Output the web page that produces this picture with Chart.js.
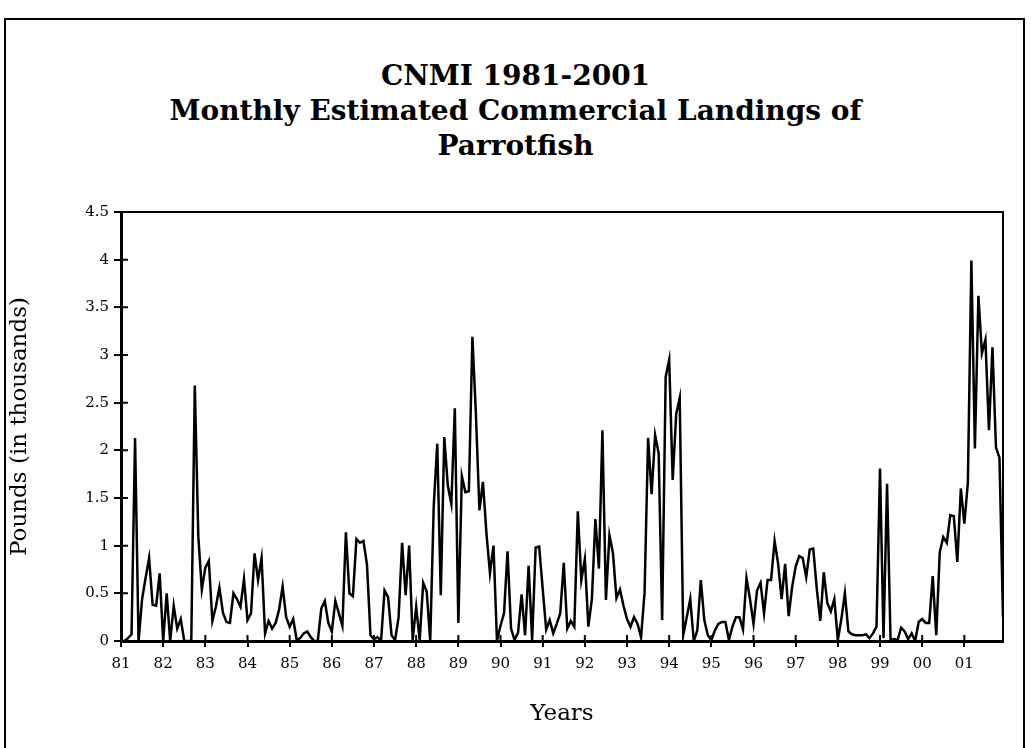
<!DOCTYPE html>
<html>
<head>
<meta charset="utf-8">
<script src="https://cdn.jsdelivr.net/npm/chart.js@4.4.1/dist/chart.umd.min.js"></script>
<style>
    html, body { margin: 0; padding: 0; background: #fff; }
    body { width: 1031px; height: 748px; position: relative; overflow: hidden; }
    .frame {
        position: absolute; left: 4px; top: 18px; width: 1021px; height: 760px;
        border: 2px solid #000; box-sizing: border-box;
    }
    .title {
        position: absolute; left: 0; width: 1031px; top: 58px; text-align: center;
        font-family: 'DejaVu Serif', serif; font-weight: bold; font-size: 28px; line-height: 35px;
        color: #000;
    }
    #chartWrap { position: absolute; left: 0; top: 0; width: 1031px; height: 748px; }
</style>
</head>
<body>
<div class="frame"></div>
<div class="title">CNMI 1981-2001<br>Monthly Estimated Commercial Landings of<br>Parrotfish</div>
<div id="chartWrap"><canvas id="landingsChart"></canvas></div>
<script>
const yearLabels = ['81', '82', '83', '84', '85', '86', '87', '88', '89', '90', '91',
    '92', '93', '94', '95', '96', '97', '98', '99', '00', '01'];

// pounds (in thousands), Jan..Dec for each year
const monthlyPounds = [
    0, 0, 0.03, 0.07, 2.13, 0, 0.44, 0.66, 0.87, 0.38, 0.37, 0.71,          // 81
    0, 0.5, 0, 0.37, 0.13, 0.23, 0, 0, 0, 2.68, 1.1, 0.54,                  // 82
    0.77, 0.84, 0.21, 0.36, 0.56, 0.3, 0.2, 0.19, 0.5, 0.44, 0.36, 0.65,    // 83
    0.22, 0.29, 0.92, 0.64, 0.87, 0.08, 0.21, 0.13, 0.19, 0.33, 0.57, 0.25, // 84
    0.15, 0.23, 0.01, 0.03, 0.08, 0.1, 0.04, 0, 0, 0.34, 0.42, 0.19,        // 85
    0.1, 0.42, 0.29, 0.16, 1.14, 0.5, 0.47, 1.07, 1.03, 1.05, 0.8, 0.06,    // 86
    0.02, 0.04, 0, 0.53, 0.46, 0.06, 0.01, 0.25, 1.03, 0.48, 1.0, 0.01,     // 87
    0.36, 0.01, 0.61, 0.52, 0, 1.42, 2.07, 0.48, 2.14, 1.63, 1.44, 2.44,    // 88
    0.19, 1.73, 1.56, 1.57, 3.19, 2.38, 1.37, 1.67, 1.13, 0.71, 1.0, 0,     // 89
    0.16, 0.29, 0.94, 0.13, 0.01, 0.09, 0.49, 0.06, 0.79, 0.01, 0.98, 0.99, // 90
    0.55, 0.12, 0.22, 0.08, 0.18, 0.29, 0.82, 0.13, 0.21, 0.15, 1.36, 0.64, // 91
    0.86, 0.15, 0.44, 1.28, 0.76, 2.21, 0.43, 1.11, 0.92, 0.45, 0.54, 0.37, // 92
    0.23, 0.15, 0.25, 0.18, 0.04, 0.51, 2.13, 1.54, 2.16, 1.97, 0.22, 2.77, // 93
    2.95, 1.69, 2.38, 2.55, 0.06, 0.25, 0.44, 0, 0.11, 0.64, 0.22, 0.06,    // 94
    0.01, 0.11, 0.18, 0.2, 0.2, 0.01, 0.15, 0.25, 0.25, 0.12, 0.66, 0.44,   // 95
    0.18, 0.53, 0.61, 0.29, 0.64, 0.64, 1.05, 0.81, 0.44, 0.81, 0.26, 0.57, // 96
    0.78, 0.89, 0.87, 0.67, 0.96, 0.97, 0.55, 0.21, 0.72, 0.4, 0.31, 0.44,  // 97
    0.01, 0.23, 0.5, 0.1, 0.07, 0.06, 0.06, 0.06, 0.07, 0.03, 0.08, 0.15,   // 98
    1.81, 0.03, 1.65, 0.01, 0.02, 0.01, 0.14, 0.1, 0.02, 0.08, 0, 0.2,      // 99
    0.23, 0.19, 0.19, 0.68, 0.06, 0.93, 1.09, 1.03, 1.32, 1.31, 0.83, 1.6,  // 00
    1.23, 1.66, 3.99, 2.02, 3.62, 3.02, 3.16, 2.21, 3.08, 2.03, 1.92, 0.25, // 01
];

const Y_MIN = 0;
const Y_MAX = 4.5;
const Y_STEP = 0.5;

// one category per month; only January carries the year label
const monthLabels = [];
yearLabels.forEach((yr) => {
    for (let m = 0; m < 12; m++) monthLabels.push(m === 0 ? yr : '');
});

const serif = "'DejaVu Serif', serif";

// top/right box lines plus the inner half of each tick mark
const plotBox = {
    id: 'plotBox',
    afterDraw(chart) {
        const { ctx, chartArea: a, scales } = chart;
        ctx.save();
        ctx.strokeStyle = '#000';
        ctx.lineWidth = 2;
        ctx.beginPath();
        ctx.moveTo(a.left, a.top);
        ctx.lineTo(a.right, a.top);
        ctx.lineTo(a.right, a.bottom);
        ctx.stroke();

        ctx.beginPath();
        scales.y.ticks.forEach((t, i) => {
            const py = scales.y.getPixelForTick(i);
            ctx.moveTo(a.left, py);
            ctx.lineTo(a.left + 7, py);
        });
        scales.x.ticks.forEach((t, i) => {
            if (i % 12 !== 0) return;
            const px = scales.x.getPixelForTick(i);
            ctx.moveTo(px, a.bottom);
            ctx.lineTo(px, a.bottom - 6);
        });
        ctx.stroke();
        ctx.restore();
    },
};

new Chart(document.getElementById('landingsChart'), {
    type: 'line',
    data: {
        labels: monthLabels,
        datasets: [{
            data: monthlyPounds,
            borderColor: '#000',
            borderWidth: 2.5,
            pointRadius: 0,
            tension: 0,
            fill: false,
        }],
    },
    options: {
        responsive: true,
        maintainAspectRatio: false,
        animation: false,
        layout: { padding: { top: 212, right: 28, left: 0, bottom: 0 } },
        plugins: { legend: { display: false }, tooltip: { enabled: false } },
        scales: {
            x: {
                afterFit: (scale) => { scale.height = 107; },
                border: { color: '#000', width: 3 },
                grid: {
                    drawOnChartArea: false,
                    tickLength: 6,
                    lineWidth: 2,
                    color: (c) => (c.index % 12 === 0 ? '#000' : 'rgba(0,0,0,0)'),
                },
                ticks: {
                    autoSkip: false,
                    maxRotation: 0,
                    color: '#000',
                    padding: 8,
                    font: { family: serif, size: 15 },
                },
                title: {
                    display: true,
                    text: 'Years',
                    color: '#000',
                    font: { family: serif, size: 23 },
                    padding: { top: 12, bottom: 20 },
                },
            },
            y: {
                min: Y_MIN,
                max: Y_MAX,
                afterFit: (scale) => { scale.width = 121; },
                border: { color: '#000', width: 3 },
                grid: { drawOnChartArea: false, tickLength: 7, lineWidth: 2, color: '#000' },
                ticks: {
                    stepSize: Y_STEP,
                    color: '#000',
                    padding: 5,
                    font: { family: serif, size: 15 },
                    callback: (v) => String(v),
                },
                title: {
                    display: true,
                    text: 'Pounds (in thousands)',
                    color: '#000',
                    font: { family: serif, size: 23 },
                    padding: { top: 6, bottom: 0 },
                },
            },
        },
    },
    plugins: [plotBox],
});
</script>
</body>
</html>
